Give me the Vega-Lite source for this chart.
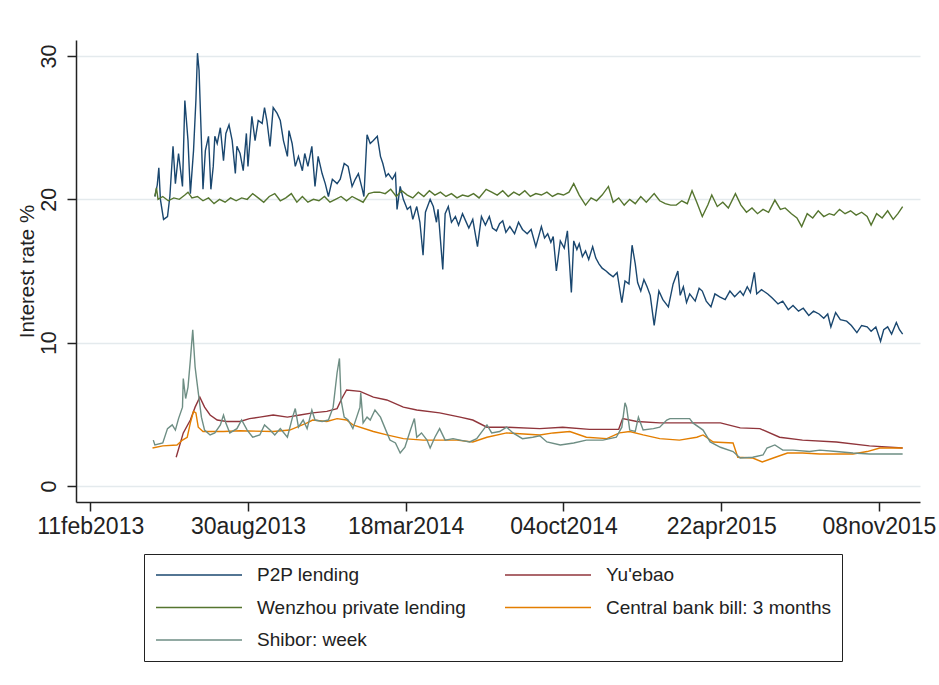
{
"$schema":"https://vega.github.io/schema/vega-lite/v6.json",
"width":844,"height":462,
"autosize":"none",
"padding":{"left":76,"top":40,"right":19,"bottom":183},
"background":"white",
"config":{"view":{"stroke":null},"font":"Liberation Sans"},
"encoding":{
 "x":{"field":"date","type":"temporal",
  "scale":{"type":"utc","domain":[{"year":2013,"month":1,"date":24,"utc":true},{"year":2015,"month":12,"date":30,"utc":true}]},
  "axis":{"title":null,"grid":false,
   "values":[{"year":2013,"month":2,"date":11,"utc":true},{"year":2013,"month":8,"date":30,"utc":true},{"year":2014,"month":3,"date":18,"utc":true},{"year":2014,"month":10,"date":4,"utc":true},{"year":2015,"month":4,"date":22,"utc":true},{"year":2015,"month":11,"date":8,"utc":true}],
   "labelExpr":"lower(utcFormat(datum.value,'%d%b%Y'))",
   "tickSize":9,"tickWidth":1.5,"tickColor":"#222","domainColor":"#222","domainWidth":1.5,
   "labelFontSize":23,"labelPadding":4,"labelColor":"#222","labelFont":"Liberation Sans","labelFlush":false,"labelOverlap":false}},
 "y":{"field":"rate","type":"quantitative",
  "scale":{"domain":[-1.12,31.12],"nice":false,"zero":false},
  "axis":{"title":"Interest rate %","values":[0,10,20,30],"grid":true,"gridColor":"#e4eaed","gridWidth":1.5,
   "labelAngle":-90,"labelFontSize":21.5,"labelPadding":7,"labelColor":"#222","labelFont":"Liberation Sans",
   "tickSize":9,"tickWidth":1.5,"tickColor":"#222","domainColor":"#222","domainWidth":1.5,
   "titleFontSize":20.5,"titleFontWeight":"normal","titlePadding":1,"titleColor":"#222","titleFont":"Liberation Sans"}}
},
"layer":[
{"data":{"values":[
{"date":"2013-05-04","rate":20.2},{"date":"2013-05-07","rate":21.0},{"date":"2013-05-09","rate":22.2},{"date":"2013-05-11","rate":20.0},{"date":"2013-05-15","rate":18.6},{"date":"2013-05-20","rate":18.8},{"date":"2013-05-23","rate":20.2},{"date":"2013-05-27","rate":23.7},{"date":"2013-05-30","rate":21.1},{"date":"2013-06-03","rate":23.2},{"date":"2013-06-08","rate":20.9},{"date":"2013-06-11","rate":26.9},{"date":"2013-06-15","rate":24.1},{"date":"2013-06-18","rate":20.4},{"date":"2013-06-22","rate":23.4},{"date":"2013-06-25","rate":26.9},{"date":"2013-06-27","rate":30.2},{"date":"2013-06-29","rate":29.0},{"date":"2013-07-02","rate":24.1},{"date":"2013-07-04","rate":20.7},{"date":"2013-07-07","rate":23.4},{"date":"2013-07-11","rate":24.4},{"date":"2013-07-14","rate":20.7},{"date":"2013-07-17","rate":22.3},{"date":"2013-07-19","rate":24.4},{"date":"2013-07-22","rate":23.9},{"date":"2013-07-26","rate":25.0},{"date":"2013-07-30","rate":22.7},{"date":"2013-08-02","rate":24.6},{"date":"2013-08-06","rate":25.2},{"date":"2013-08-10","rate":24.1},{"date":"2013-08-14","rate":21.8},{"date":"2013-08-16","rate":23.7},{"date":"2013-08-20","rate":23.2},{"date":"2013-08-24","rate":22.0},{"date":"2013-08-28","rate":24.6},{"date":"2013-08-30","rate":22.3},{"date":"2013-09-04","rate":25.8},{"date":"2013-09-08","rate":24.1},{"date":"2013-09-12","rate":25.5},{"date":"2013-09-17","rate":25.3},{"date":"2013-09-20","rate":26.4},{"date":"2013-09-23","rate":25.5},{"date":"2013-09-27","rate":23.7},{"date":"2013-10-01","rate":26.4},{"date":"2013-10-06","rate":26.0},{"date":"2013-10-10","rate":25.5},{"date":"2013-10-14","rate":24.1},{"date":"2013-10-19","rate":23.0},{"date":"2013-10-21","rate":24.8},{"date":"2013-10-25","rate":23.9},{"date":"2013-10-29","rate":22.3},{"date":"2013-11-02","rate":23.0},{"date":"2013-11-07","rate":22.0},{"date":"2013-11-10","rate":23.2},{"date":"2013-11-14","rate":22.3},{"date":"2013-11-19","rate":23.7},{"date":"2013-11-23","rate":20.9},{"date":"2013-11-27","rate":23.0},{"date":"2013-12-02","rate":21.8},{"date":"2013-12-06","rate":21.1},{"date":"2013-12-10","rate":20.2},{"date":"2013-12-15","rate":21.4},{"date":"2013-12-21","rate":21.1},{"date":"2013-12-25","rate":21.4},{"date":"2013-12-30","rate":22.5},{"date":"2014-01-04","rate":22.3},{"date":"2014-01-09","rate":20.9},{"date":"2014-01-13","rate":21.4},{"date":"2014-01-17","rate":21.8},{"date":"2014-01-22","rate":20.7},{"date":"2014-01-24","rate":20.2},{"date":"2014-01-28","rate":24.5},{"date":"2014-02-01","rate":23.9},{"date":"2014-02-05","rate":24.1},{"date":"2014-02-10","rate":24.4},{"date":"2014-02-14","rate":23.0},{"date":"2014-02-17","rate":22.5},{"date":"2014-02-21","rate":21.6},{"date":"2014-02-24","rate":21.8},{"date":"2014-03-01","rate":21.4},{"date":"2014-03-05","rate":21.8},{"date":"2014-03-07","rate":19.3},{"date":"2014-03-11","rate":20.9},{"date":"2014-03-15","rate":20.0},{"date":"2014-03-20","rate":19.3},{"date":"2014-03-24","rate":19.5},{"date":"2014-03-27","rate":18.6},{"date":"2014-04-01","rate":19.5},{"date":"2014-04-05","rate":18.4},{"date":"2014-04-09","rate":16.1},{"date":"2014-04-12","rate":19.1},{"date":"2014-04-18","rate":20.0},{"date":"2014-04-22","rate":19.5},{"date":"2014-04-26","rate":18.4},{"date":"2014-04-28","rate":19.3},{"date":"2014-05-04","rate":15.1},{"date":"2014-05-07","rate":19.0},{"date":"2014-05-11","rate":19.5},{"date":"2014-05-15","rate":18.4},{"date":"2014-05-20","rate":18.8},{"date":"2014-05-24","rate":18.2},{"date":"2014-05-29","rate":19.0},{"date":"2014-06-02","rate":18.5},{"date":"2014-06-06","rate":18.0},{"date":"2014-06-11","rate":18.6},{"date":"2014-06-17","rate":16.7},{"date":"2014-06-22","rate":18.8},{"date":"2014-06-27","rate":18.2},{"date":"2014-07-02","rate":18.8},{"date":"2014-07-06","rate":18.0},{"date":"2014-07-11","rate":17.8},{"date":"2014-07-15","rate":18.3},{"date":"2014-07-19","rate":18.5},{"date":"2014-07-23","rate":17.7},{"date":"2014-07-28","rate":18.1},{"date":"2014-08-03","rate":17.6},{"date":"2014-08-08","rate":18.4},{"date":"2014-08-13","rate":17.9},{"date":"2014-08-19","rate":17.6},{"date":"2014-08-24","rate":17.9},{"date":"2014-08-30","rate":16.7},{"date":"2014-09-03","rate":17.5},{"date":"2014-09-06","rate":18.1},{"date":"2014-09-10","rate":17.3},{"date":"2014-09-14","rate":17.6},{"date":"2014-09-18","rate":17.0},{"date":"2014-09-21","rate":17.4},{"date":"2014-09-25","rate":15.0},{"date":"2014-09-30","rate":17.1},{"date":"2014-10-05","rate":16.6},{"date":"2014-10-09","rate":17.8},{"date":"2014-10-14","rate":13.5},{"date":"2014-10-17","rate":17.1},{"date":"2014-10-21","rate":16.5},{"date":"2014-10-24","rate":16.9},{"date":"2014-10-28","rate":16.0},{"date":"2014-11-01","rate":16.4},{"date":"2014-11-05","rate":15.8},{"date":"2014-11-10","rate":16.7},{"date":"2014-11-14","rate":15.9},{"date":"2014-11-18","rate":15.5},{"date":"2014-11-22","rate":15.2},{"date":"2014-11-27","rate":15.0},{"date":"2014-12-01","rate":14.8},{"date":"2014-12-06","rate":14.6},{"date":"2014-12-11","rate":14.9},{"date":"2014-12-17","rate":12.8},{"date":"2014-12-21","rate":14.3},{"date":"2014-12-26","rate":14.1},{"date":"2014-12-30","rate":16.8},{"date":"2015-01-03","rate":15.5},{"date":"2015-01-06","rate":14.2},{"date":"2015-01-10","rate":13.6},{"date":"2015-01-14","rate":14.4},{"date":"2015-01-18","rate":13.9},{"date":"2015-01-22","rate":13.3},{"date":"2015-01-27","rate":11.2},{"date":"2015-02-02","rate":13.6},{"date":"2015-02-07","rate":13.0},{"date":"2015-02-14","rate":12.5},{"date":"2015-02-20","rate":14.1},{"date":"2015-02-26","rate":15.0},{"date":"2015-03-01","rate":13.3},{"date":"2015-03-05","rate":13.9},{"date":"2015-03-09","rate":12.8},{"date":"2015-03-13","rate":13.4},{"date":"2015-03-20","rate":12.9},{"date":"2015-03-25","rate":13.8},{"date":"2015-03-29","rate":13.6},{"date":"2015-04-03","rate":12.9},{"date":"2015-04-09","rate":12.5},{"date":"2015-04-14","rate":13.4},{"date":"2015-04-20","rate":13.2},{"date":"2015-04-27","rate":13.0},{"date":"2015-05-03","rate":13.6},{"date":"2015-05-09","rate":13.2},{"date":"2015-05-16","rate":13.6},{"date":"2015-05-20","rate":13.3},{"date":"2015-05-25","rate":13.9},{"date":"2015-05-29","rate":13.5},{"date":"2015-06-03","rate":14.9},{"date":"2015-06-06","rate":13.4},{"date":"2015-06-12","rate":13.7},{"date":"2015-06-20","rate":13.4},{"date":"2015-06-26","rate":13.1},{"date":"2015-07-03","rate":12.7},{"date":"2015-07-09","rate":12.9},{"date":"2015-07-16","rate":12.3},{"date":"2015-07-22","rate":12.6},{"date":"2015-07-29","rate":12.2},{"date":"2015-08-04","rate":12.4},{"date":"2015-08-11","rate":11.9},{"date":"2015-08-17","rate":12.2},{"date":"2015-08-24","rate":12.0},{"date":"2015-08-30","rate":11.7},{"date":"2015-09-04","rate":12.0},{"date":"2015-09-08","rate":11.1},{"date":"2015-09-14","rate":12.1},{"date":"2015-09-20","rate":11.6},{"date":"2015-09-28","rate":11.5},{"date":"2015-10-04","rate":11.2},{"date":"2015-10-11","rate":10.7},{"date":"2015-10-17","rate":11.2},{"date":"2015-10-24","rate":11.1},{"date":"2015-10-29","rate":10.8},{"date":"2015-11-04","rate":11.1},{"date":"2015-11-10","rate":10.1},{"date":"2015-11-14","rate":10.9},{"date":"2015-11-19","rate":11.1},{"date":"2015-11-24","rate":10.6},{"date":"2015-11-30","rate":11.4},{"date":"2015-12-04","rate":10.9},{"date":"2015-12-08","rate":10.6}
]},
"mark":{"type":"line","strokeWidth":1.4},
"encoding":{"color":{"datum":"P2P lending","type":"nominal",
 "scale":{"domain":["P2P lending","Wenzhou private lending","Shibor: week","Yu'ebao","Central bank bill: 3 months"],"range":["#1a476f","#55752f","#6e8e84","#90353b","#e37e00"]},
 "legend":{"orient":"none","legendX":68,"legendY":514,"columns":2,"title":null,"symbolType":"stroke","symbolSize":7396,"symbolStrokeWidth":1.4,
  "labelFontSize":19,"labelFont":"Liberation Sans","labelColor":"#222","labelOffset":14,"labelLimit":400,
  "columnPadding":38,"rowPadding":12.5,"clipHeight":20,"padding":11,"strokeColor":"#222","fillColor":"white"}}}},
{"data":{"values":[
{"date":"2013-05-31","rate":2.0},{"date":"2013-06-09","rate":3.7},{"date":"2013-06-18","rate":4.6},{"date":"2013-06-24","rate":5.5},{"date":"2013-06-30","rate":6.2},{"date":"2013-07-06","rate":5.5},{"date":"2013-07-13","rate":4.95},{"date":"2013-07-22","rate":4.6},{"date":"2013-08-03","rate":4.5},{"date":"2013-08-20","rate":4.5},{"date":"2013-09-01","rate":4.7},{"date":"2013-09-14","rate":4.8},{"date":"2013-10-01","rate":4.95},{"date":"2013-10-19","rate":4.8},{"date":"2013-11-04","rate":4.95},{"date":"2013-11-20","rate":5.1},{"date":"2013-12-08","rate":5.2},{"date":"2013-12-21","rate":5.4},{"date":"2013-12-27","rate":6.1},{"date":"2014-01-02","rate":6.7},{"date":"2014-01-19","rate":6.6},{"date":"2014-02-05","rate":6.2},{"date":"2014-02-22","rate":6.0},{"date":"2014-03-15","rate":5.5},{"date":"2014-04-01","rate":5.3},{"date":"2014-04-30","rate":5.1},{"date":"2014-05-26","rate":4.8},{"date":"2014-06-11","rate":4.6},{"date":"2014-06-29","rate":4.1},{"date":"2014-07-24","rate":4.1},{"date":"2014-09-04","rate":4.0},{"date":"2014-10-03","rate":4.1},{"date":"2014-11-06","rate":3.95},{"date":"2014-12-13","rate":3.95},{"date":"2014-12-18","rate":4.7},{"date":"2015-01-05","rate":4.5},{"date":"2015-02-03","rate":4.4},{"date":"2015-04-21","rate":4.4},{"date":"2015-05-16","rate":4.05},{"date":"2015-06-10","rate":4.0},{"date":"2015-07-05","rate":3.4},{"date":"2015-08-03","rate":3.2},{"date":"2015-09-15","rate":3.07},{"date":"2015-10-27","rate":2.8},{"date":"2015-12-08","rate":2.65}
]},
"mark":{"type":"line","strokeWidth":1.4},
"encoding":{"color":{"datum":"Yu'ebao","type":"nominal"}}},
{"data":{"values":[
{"date":"2013-05-04","rate":20.2},{"date":"2013-05-06","rate":20.8},{"date":"2013-05-08","rate":20.0},{"date":"2013-05-14","rate":20.2},{"date":"2013-05-21","rate":19.9},{"date":"2013-05-28","rate":20.1},{"date":"2013-06-04","rate":20.0},{"date":"2013-06-11","rate":20.3},{"date":"2013-06-15","rate":20.5},{"date":"2013-06-20","rate":20.1},{"date":"2013-06-27","rate":20.2},{"date":"2013-07-04","rate":19.9},{"date":"2013-07-11","rate":20.1},{"date":"2013-07-18","rate":19.7},{"date":"2013-07-25","rate":20.0},{"date":"2013-08-01","rate":19.8},{"date":"2013-08-08","rate":20.1},{"date":"2013-08-15","rate":19.9},{"date":"2013-08-22","rate":20.1},{"date":"2013-08-29","rate":20.0},{"date":"2013-09-05","rate":20.4},{"date":"2013-09-12","rate":20.1},{"date":"2013-09-19","rate":19.8},{"date":"2013-09-26","rate":20.2},{"date":"2013-10-03","rate":20.4},{"date":"2013-10-10","rate":19.9},{"date":"2013-10-17","rate":20.1},{"date":"2013-10-24","rate":20.4},{"date":"2013-10-31","rate":19.8},{"date":"2013-11-07","rate":20.2},{"date":"2013-11-14","rate":19.8},{"date":"2013-11-21","rate":20.0},{"date":"2013-11-28","rate":19.9},{"date":"2013-12-05","rate":20.2},{"date":"2013-12-12","rate":19.8},{"date":"2013-12-19","rate":20.0},{"date":"2013-12-26","rate":20.2},{"date":"2014-01-02","rate":19.9},{"date":"2014-01-09","rate":20.2},{"date":"2014-01-16","rate":20.0},{"date":"2014-01-23","rate":19.8},{"date":"2014-01-30","rate":20.4},{"date":"2014-02-06","rate":20.5},{"date":"2014-02-13","rate":20.5},{"date":"2014-02-20","rate":20.4},{"date":"2014-02-27","rate":20.7},{"date":"2014-03-06","rate":20.2},{"date":"2014-03-13","rate":20.6},{"date":"2014-03-20","rate":20.3},{"date":"2014-03-27","rate":20.1},{"date":"2014-04-03","rate":20.5},{"date":"2014-04-10","rate":20.2},{"date":"2014-04-17","rate":20.6},{"date":"2014-04-24","rate":20.3},{"date":"2014-05-01","rate":20.5},{"date":"2014-05-08","rate":20.2},{"date":"2014-05-15","rate":20.4},{"date":"2014-05-22","rate":20.1},{"date":"2014-05-29","rate":20.3},{"date":"2014-06-05","rate":20.2},{"date":"2014-06-12","rate":20.4},{"date":"2014-06-19","rate":20.1},{"date":"2014-06-28","rate":20.7},{"date":"2014-07-05","rate":20.5},{"date":"2014-07-12","rate":20.3},{"date":"2014-07-19","rate":20.6},{"date":"2014-07-26","rate":20.2},{"date":"2014-08-02","rate":20.5},{"date":"2014-08-09","rate":20.3},{"date":"2014-08-16","rate":20.6},{"date":"2014-08-23","rate":20.2},{"date":"2014-08-30","rate":20.4},{"date":"2014-09-06","rate":20.3},{"date":"2014-09-13","rate":20.5},{"date":"2014-09-20","rate":20.2},{"date":"2014-09-27","rate":20.4},{"date":"2014-10-04","rate":20.3},{"date":"2014-10-11","rate":20.5},{"date":"2014-10-17","rate":21.1},{"date":"2014-10-24","rate":20.3},{"date":"2014-11-01","rate":19.6},{"date":"2014-11-08","rate":20.1},{"date":"2014-11-15","rate":19.9},{"date":"2014-11-22","rate":20.3},{"date":"2014-11-30","rate":20.9},{"date":"2014-12-06","rate":19.8},{"date":"2014-12-13","rate":20.1},{"date":"2014-12-20","rate":19.6},{"date":"2014-12-27","rate":20.0},{"date":"2015-01-03","rate":19.7},{"date":"2015-01-10","rate":20.2},{"date":"2015-01-17","rate":19.8},{"date":"2015-01-27","rate":20.4},{"date":"2015-02-03","rate":19.9},{"date":"2015-02-10","rate":19.7},{"date":"2015-02-17","rate":19.6},{"date":"2015-02-24","rate":19.6},{"date":"2015-03-03","rate":19.9},{"date":"2015-03-10","rate":19.7},{"date":"2015-03-16","rate":20.6},{"date":"2015-03-22","rate":19.8},{"date":"2015-03-29","rate":18.8},{"date":"2015-04-05","rate":19.6},{"date":"2015-04-10","rate":20.3},{"date":"2015-04-17","rate":19.5},{"date":"2015-04-24","rate":19.8},{"date":"2015-05-01","rate":19.4},{"date":"2015-05-10","rate":20.4},{"date":"2015-05-17","rate":19.6},{"date":"2015-05-24","rate":19.1},{"date":"2015-05-31","rate":19.4},{"date":"2015-06-07","rate":19.0},{"date":"2015-06-14","rate":19.3},{"date":"2015-06-21","rate":19.1},{"date":"2015-06-29","rate":19.95},{"date":"2015-07-06","rate":19.3},{"date":"2015-07-12","rate":19.4},{"date":"2015-07-20","rate":19.0},{"date":"2015-07-27","rate":18.7},{"date":"2015-08-02","rate":18.1},{"date":"2015-08-09","rate":19.0},{"date":"2015-08-16","rate":18.7},{"date":"2015-08-23","rate":19.2},{"date":"2015-08-30","rate":18.8},{"date":"2015-09-06","rate":19.0},{"date":"2015-09-12","rate":18.9},{"date":"2015-09-19","rate":19.3},{"date":"2015-09-26","rate":19.0},{"date":"2015-10-03","rate":19.2},{"date":"2015-10-10","rate":18.9},{"date":"2015-10-17","rate":19.1},{"date":"2015-10-24","rate":18.8},{"date":"2015-10-29","rate":18.2},{"date":"2015-11-05","rate":19.0},{"date":"2015-11-12","rate":18.7},{"date":"2015-11-19","rate":19.2},{"date":"2015-11-26","rate":18.6},{"date":"2015-12-02","rate":19.0},{"date":"2015-12-08","rate":19.5}
]},
"mark":{"type":"line","strokeWidth":1.4},
"encoding":{"color":{"datum":"Wenzhou private lending","type":"nominal"}}},
{"data":{"values":[
{"date":"2013-05-01","rate":2.65},{"date":"2013-05-14","rate":2.8},{"date":"2013-06-01","rate":2.86},{"date":"2013-06-08","rate":3.2},{"date":"2013-06-14","rate":3.4},{"date":"2013-06-18","rate":4.4},{"date":"2013-06-22","rate":5.2},{"date":"2013-06-25","rate":5.1},{"date":"2013-06-28","rate":4.1},{"date":"2013-07-04","rate":3.8},{"date":"2013-07-30","rate":3.8},{"date":"2013-08-20","rate":3.85},{"date":"2013-10-01","rate":3.8},{"date":"2013-10-22","rate":3.9},{"date":"2013-11-13","rate":4.4},{"date":"2013-11-20","rate":4.6},{"date":"2013-12-08","rate":4.5},{"date":"2013-12-21","rate":4.7},{"date":"2014-01-02","rate":4.6},{"date":"2014-01-10","rate":4.26},{"date":"2014-02-05","rate":3.8},{"date":"2014-02-22","rate":3.56},{"date":"2014-03-15","rate":3.3},{"date":"2014-04-09","rate":3.2},{"date":"2014-05-22","rate":3.2},{"date":"2014-06-11","rate":3.07},{"date":"2014-06-29","rate":3.4},{"date":"2014-07-24","rate":3.7},{"date":"2014-09-04","rate":3.56},{"date":"2014-09-21","rate":3.7},{"date":"2014-10-12","rate":3.8},{"date":"2014-11-02","rate":3.4},{"date":"2014-11-28","rate":3.3},{"date":"2014-12-14","rate":3.7},{"date":"2014-12-27","rate":3.8},{"date":"2015-01-13","rate":3.56},{"date":"2015-02-03","rate":3.3},{"date":"2015-02-28","rate":3.2},{"date":"2015-03-22","rate":3.4},{"date":"2015-03-30","rate":3.56},{"date":"2015-04-12","rate":3.07},{"date":"2015-05-07","rate":3.0},{"date":"2015-05-13","rate":2.0},{"date":"2015-06-01","rate":1.95},{"date":"2015-06-13","rate":1.67},{"date":"2015-06-27","rate":1.95},{"date":"2015-07-15","rate":2.3},{"date":"2015-08-03","rate":2.3},{"date":"2015-08-25","rate":2.23},{"date":"2015-10-06","rate":2.23},{"date":"2015-10-24","rate":2.4},{"date":"2015-11-09","rate":2.65},{"date":"2015-12-08","rate":2.65}
]},
"mark":{"type":"line","strokeWidth":1.4},
"encoding":{"color":{"datum":"Central bank bill: 3 months","type":"nominal"}}},
{"data":{"values":[
{"date":"2013-05-02","rate":3.2},{"date":"2013-05-04","rate":2.86},{"date":"2013-05-14","rate":3.0},{"date":"2013-05-20","rate":4.0},{"date":"2013-05-26","rate":4.26},{"date":"2013-05-30","rate":3.9},{"date":"2013-06-03","rate":4.7},{"date":"2013-06-08","rate":5.5},{"date":"2013-06-09","rate":7.5},{"date":"2013-06-12","rate":6.1},{"date":"2013-06-15","rate":6.9},{"date":"2013-06-18","rate":8.8},{"date":"2013-06-21","rate":10.9},{"date":"2013-06-24","rate":8.3},{"date":"2013-06-26","rate":7.4},{"date":"2013-06-29","rate":6.1},{"date":"2013-07-02","rate":4.8},{"date":"2013-07-06","rate":3.9},{"date":"2013-07-13","rate":3.56},{"date":"2013-07-19","rate":3.7},{"date":"2013-07-26","rate":4.26},{"date":"2013-07-30","rate":4.95},{"date":"2013-08-02","rate":4.4},{"date":"2013-08-07","rate":3.7},{"date":"2013-08-16","rate":4.0},{"date":"2013-08-22","rate":4.6},{"date":"2013-08-29","rate":3.9},{"date":"2013-09-05","rate":3.4},{"date":"2013-09-14","rate":3.56},{"date":"2013-09-20","rate":4.26},{"date":"2013-09-27","rate":3.9},{"date":"2013-10-03","rate":3.56},{"date":"2013-10-10","rate":4.0},{"date":"2013-10-19","rate":3.4},{"date":"2013-10-25","rate":4.7},{"date":"2013-10-29","rate":5.4},{"date":"2013-11-02","rate":4.1},{"date":"2013-11-08","rate":4.6},{"date":"2013-11-13","rate":4.0},{"date":"2013-11-19","rate":5.3},{"date":"2013-11-23","rate":4.6},{"date":"2013-12-02","rate":4.5},{"date":"2013-12-10","rate":4.6},{"date":"2013-12-16","rate":5.5},{"date":"2013-12-21","rate":7.9},{"date":"2013-12-24","rate":8.9},{"date":"2013-12-26","rate":6.0},{"date":"2013-12-30","rate":4.8},{"date":"2014-01-04","rate":4.6},{"date":"2014-01-10","rate":4.0},{"date":"2014-01-19","rate":5.5},{"date":"2014-01-20","rate":6.5},{"date":"2014-01-23","rate":4.4},{"date":"2014-01-28","rate":4.8},{"date":"2014-02-01","rate":4.6},{"date":"2014-02-07","rate":5.3},{"date":"2014-02-14","rate":4.8},{"date":"2014-02-20","rate":4.0},{"date":"2014-02-26","rate":3.2},{"date":"2014-03-05","rate":3.0},{"date":"2014-03-11","rate":2.3},{"date":"2014-03-17","rate":2.7},{"date":"2014-03-24","rate":3.9},{"date":"2014-03-29","rate":4.7},{"date":"2014-04-01","rate":3.4},{"date":"2014-04-07","rate":3.7},{"date":"2014-04-14","rate":3.2},{"date":"2014-04-18","rate":2.65},{"date":"2014-04-24","rate":3.4},{"date":"2014-04-30","rate":4.0},{"date":"2014-05-07","rate":3.2},{"date":"2014-05-17","rate":3.3},{"date":"2014-05-26","rate":3.2},{"date":"2014-06-07","rate":3.07},{"date":"2014-06-16","rate":3.3},{"date":"2014-06-29","rate":4.26},{"date":"2014-07-05","rate":3.7},{"date":"2014-07-15","rate":3.8},{"date":"2014-07-24","rate":4.1},{"date":"2014-08-01","rate":3.7},{"date":"2014-08-13","rate":3.3},{"date":"2014-08-26","rate":3.4},{"date":"2014-09-04","rate":3.5},{"date":"2014-09-13","rate":3.07},{"date":"2014-09-30","rate":2.86},{"date":"2014-10-17","rate":3.0},{"date":"2014-11-02","rate":3.2},{"date":"2014-11-23","rate":3.2},{"date":"2014-12-10","rate":3.4},{"date":"2014-12-17","rate":4.1},{"date":"2014-12-21","rate":5.8},{"date":"2014-12-23","rate":5.5},{"date":"2014-12-27","rate":3.9},{"date":"2015-01-03","rate":3.8},{"date":"2015-01-07","rate":4.8},{"date":"2015-01-13","rate":3.9},{"date":"2015-01-26","rate":4.0},{"date":"2015-02-03","rate":4.1},{"date":"2015-02-12","rate":4.6},{"date":"2015-02-16","rate":4.7},{"date":"2015-03-13","rate":4.7},{"date":"2015-03-17","rate":4.4},{"date":"2015-03-30","rate":3.9},{"date":"2015-04-08","rate":3.07},{"date":"2015-04-21","rate":2.7},{"date":"2015-05-07","rate":2.4},{"date":"2015-05-16","rate":1.95},{"date":"2015-06-01","rate":2.0},{"date":"2015-06-14","rate":2.16},{"date":"2015-06-19","rate":2.65},{"date":"2015-06-29","rate":2.86},{"date":"2015-07-09","rate":2.5},{"date":"2015-07-22","rate":2.5},{"date":"2015-08-12","rate":2.4},{"date":"2015-08-25","rate":2.5},{"date":"2015-09-15","rate":2.4},{"date":"2015-10-06","rate":2.3},{"date":"2015-10-27","rate":2.23},{"date":"2015-12-08","rate":2.23}
]},
"mark":{"type":"line","strokeWidth":1.4},
"encoding":{"color":{"datum":"Shibor: week","type":"nominal"}}}
]
}
